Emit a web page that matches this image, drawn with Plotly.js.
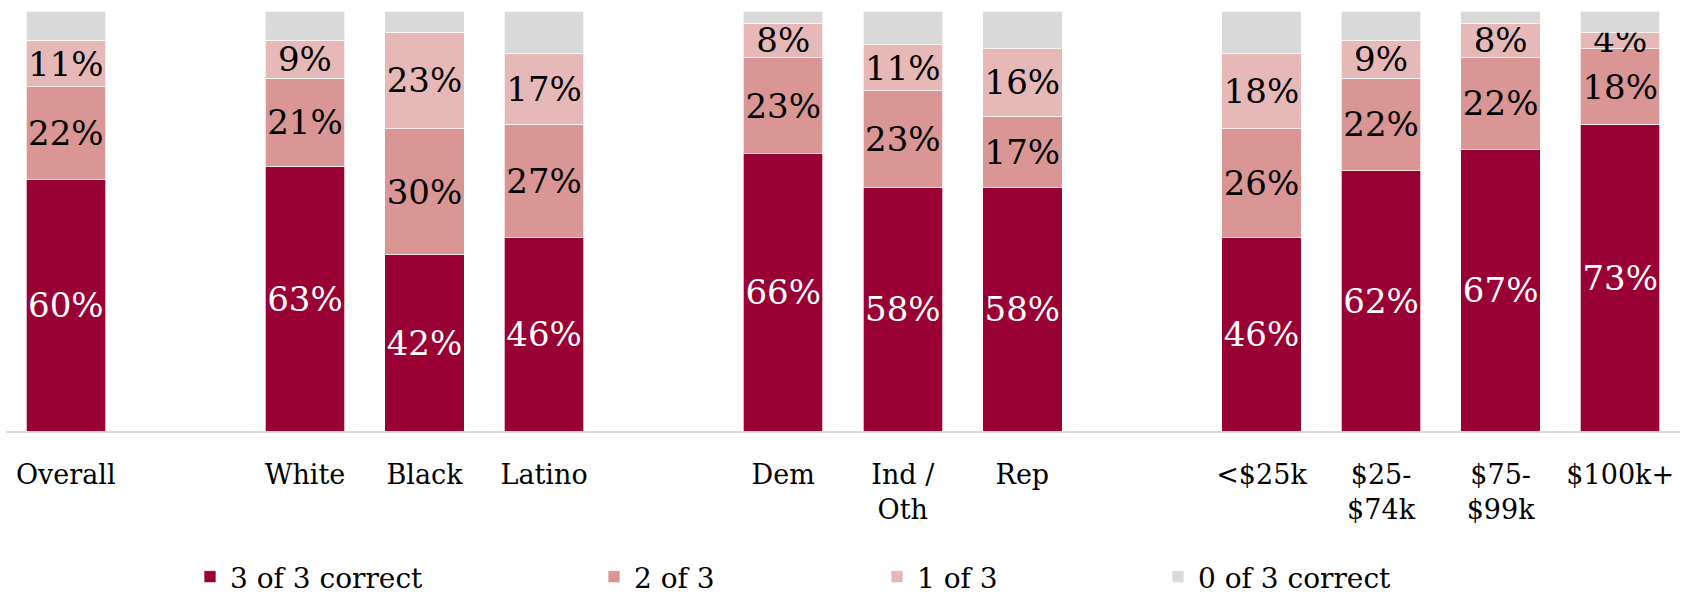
<!DOCTYPE html>
<html>
<head>
<meta charset="utf-8">
<script src="https://cdn.plot.ly/plotly-3.0.1.min.js"></script>
<style>html,body{margin:0;padding:0;background:#fff;}#chart{width:1685px;height:597px;}</style>
</head>
<body>
<div id="chart"></div>
<script>
// Slots (with blank spacer slots between groups)
const categories = ['Overall', ' ', 'White', 'Black', 'Latino', '  ', 'Dem', 'Ind /<br>Oth', 'Rep', '   ', '&lt;$25k', '$25-<br>$74k', '$75-<br>$99k', '$100k+'];
const threeCorrect = [60, null, 63, 42, 46, null, 66, 58, 58, null, 46, 62, 67, 73];
const twoOf3      = [22, null, 21, 30, 27, null, 23, 23, 17, null, 26, 22, 22, 18];
const oneOf3      = [11, null,  9, 23, 17, null,  8, 11, 16, null, 18,  9,  8,  4];
const zeroCorrect = [ 7, null,  7,  5, 10, null,  3,  8,  9, null, 10,  7,  3,  5];
const seriesNames = ['3 of 3 correct', '2 of 3', '1 of 3', '0 of 3 correct'];
const colors = ['#990033', '#DA9694', '#E6B9B8', '#D9D9D9'];
const textColors = ['#FFFFFF', '#000000', '#000000', '#000000'];

const FONT = 'DejaVu Serif, serif';
const lbl = v => (v === null ? '' : v + '%');
const allSeries = [threeCorrect, twoOf3, oneOf3, zeroCorrect];
const legendIds = ['legend', 'legend2', 'legend3', 'legend4'];

const traces = allSeries.map((vals, i) => ({
  type: 'bar',
  name: seriesNames[i],
  x: categories,
  y: vals,
  text: i < 3 ? vals.map(lbl) : vals.map(() => ''),
  textposition: i < 3 ? 'inside' : 'none',
  insidetextanchor: 'middle',
  textangle: 0,
  constraintext: 'none',
  textfont: {family: FONT, size: 34, color: textColors[i]},
  marker: {color: colors[i], line: {color: 'rgba(255,255,255,0.7)', width: 1}},
  hoverinfo: 'skip',
  legend: legendIds[i],
  showlegend: true
}));

const legendX = [190, 594, 877, 1158];
const legendBase = {
  orientation: 'h', yanchor: 'bottom', xanchor: 'left', y: -0.407,
  xref: 'paper', yref: 'paper',
  font: {family: FONT, size: 28, color: '#000'},
  bgcolor: 'rgba(0,0,0,0)', borderwidth: 0, itemclick: false, itemdoubleclick: false
};
const plotL = 6, plotW = 1674;
const layout = {
  width: 1685, height: 597,
  margin: {l: plotL, r: 1685 - plotL - plotW, t: 11, b: 166, autoexpand: false},
  barmode: 'stack',
  bargap: 0.335,
  paper_bgcolor: '#fff', plot_bgcolor: '#fff',
  font: {family: FONT, color: '#000'},
  xaxis: {
    type: 'category', categoryorder: 'array', categoryarray: categories,
    showgrid: false, zeroline: false, showline: true, linecolor: '#D9D9D9', linewidth: 1.5,
    ticks: '', ticklabelstandoff: 19, automargin: false,
    tickfont: {family: FONT, size: 27, color: '#000'},
    fixedrange: true
  },
  yaxis: {range: [0, 100], showgrid: false, zeroline: false, showticklabels: false, showline: false, fixedrange: true, automargin: false},
  showlegend: true
};
legendIds.forEach((id, i) => {
  layout[id] = Object.assign({}, legendBase, {x: (legendX[i] - plotL) / plotW});
});

Plotly.newPlot('chart', traces, layout, {displayModeBar: false, staticPlot: true});
</script>
</body>
</html>
